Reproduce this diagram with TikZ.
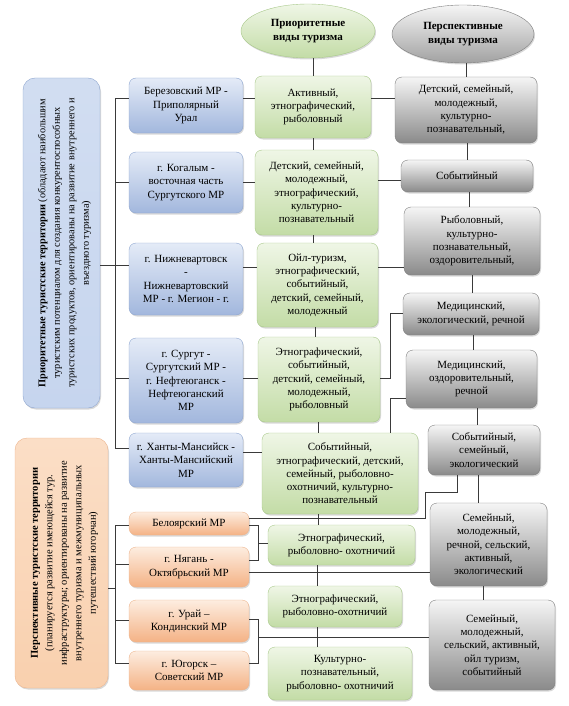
\documentclass[tikz,border=0pt]{standalone}
\usepackage{fontspec}
\setmainfont{Liberation Serif}
\usetikzlibrary{shapes.geometric,shadows}
\definecolor{blueT}{HTML}{E4EBF7}
\definecolor{blueB}{HTML}{A2B7DD}
\definecolor{blueLine}{HTML}{8EA6D0}
\definecolor{bigBlue}{HTML}{C6D5EE}
\definecolor{greenT}{HTML}{EFF6E6}
\definecolor{greenB}{HTML}{C3DCA6}
\definecolor{greenLine}{HTML}{A8C88A}
\definecolor{grayT}{HTML}{F5F5F5}
\definecolor{grayB}{HTML}{8A8A8A}
\definecolor{grayLine}{HTML}{7E7E7E}
\definecolor{orangeT}{HTML}{FDEDE0}
\definecolor{orangeB}{HTML}{F4B285}
\definecolor{orangeLine}{HTML}{EDB58E}
\definecolor{bigOrange}{HTML}{F9D0AE}
\definecolor{linkColor}{HTML}{3A3A3A}
\tikzset{
	sz/.style 2 args = {minimum width=#1pt, minimum height=#2pt},
	box/.style      = {shape=rectangle, rounded corners=7pt, draw, align=center,
		inner sep=1pt, font=\fontsize{11}{13.3}\selectfont,
		drop shadow={opacity=0.3, shadow xshift=1pt, shadow yshift=-1.5pt}},
	terr/.style     = {box, draw=blueLine, top color=blueT, bottom color=blueB},
	prio/.style     = {box, draw=greenLine, top color=greenT, bottom color=greenB},
	pers/.style     = {box, draw=grayLine, top color=grayT, bottom color=grayB},
	persterr/.style = {box, draw=orangeLine, top color=orangeT, bottom color=orangeB},
	head/.style     = {ellipse, draw, align=center, inner sep=0pt,
		font=\bfseries\fontsize{11}{13.3}\selectfont,
		drop shadow={opacity=0.3, shadow xshift=1pt, shadow yshift=-1.5pt}},
	sidetext/.style = {rotate=90, align=center},
	link/.style     = {draw=linkColor, line width=0.9pt}
}
\begin{document}
\begin{tikzpicture}[x=1pt,y=-1pt]
\useasboundingbox (0,0) rectangle (569,706);
\node [head, draw=greenLine, top color=greenT, bottom color=greenB, sz={134}{54}] (hprio) at (308,31) {Приоритетные\\виды туризма};
\node [head, draw=grayLine, top color=grayT, bottom color=grayB!80!white, sz={142}{58}] (hpers) at (463,34) {Перспективные\\виды туризма};

\node [terr, rounded corners=12pt, top color=bigBlue!80!white, bottom color=bigBlue, sz={77}{330}] (bigb) at (61.5,243) {};
\node [sidetext, font=\fontsize{10.3}{14.5}\selectfont] at ([xshift=3pt]bigb.center) {\textbf{Приоритетные туристские территории} (обладают наибольшим\\туристским потенциалом для создания конкурентоспособных\\туристских продуктов, ориентированы на развитие внутреннего и\\въездного туризма)};
\node [persterr, rounded corners=12pt, top color=bigOrange!70!white, bottom color=bigOrange, sz={93}{250}] (bigo) at (61.5,563) {};
\node [sidetext, font=\fontsize{10.5}{14.5}\selectfont] at ([xshift=3pt]bigo.center) {\textbf{Перспективные туристские территории}\\(планируется развитие имеющейся тур.\\инфраструктуры; ориентированы на развитие\\внутреннего туризма и межмуниципальных\\путешествий югорчан)};

\node [terr, sz={114}{55}] (b1) at (186,105.5) {Березовский МР -\\Приполярный\\Урал};
\node [terr, sz={114}{61}] (b2) at (186,182.5) {г. Когалым -\\восточная часть\\Сургутского МР};
\node [terr, sz={114}{72}] (b3) at (186,279) {г. Нижневартовск\\-\\Нижневартовский\\МР - г. Мегион - г.};
\node [terr, sz={114}{85}] (b4) at (186,380.5) {г. Сургут -\\Сургутский МР -\\г. Нефтеюганск -\\Нефтеюганский\\МР};
\node [terr, sz={114}{54}] (b5) at (186,460) {г. Ханты-Мансийск -\\Ханты-Мансийский\\МР};

\node [persterr, sz={120}{23}] (o1) at (189,523.5) {Белоярский МР};
\node [persterr, sz={120}{40}] (o2) at (189,567) {г. Нягань -\\Октябрьский МР};
\node [persterr, sz={120}{42}] (o3) at (189,621) {г. Урай –\\Кондинский МР};
\node [persterr, sz={120}{39}] (o4) at (189,670.5) {г. Югорск –\\Советский МР};

\node [prio, sz={116}{62}] (g1) at (313,107) {Активный,\\этнографический,\\рыболовный};
\node [prio, sz={123}{85}] (g2) at (316.5,192.5) {Детский, семейный,\\молодежный,\\этнографический,\\культурно-\\познавательный};
\node [prio, sz={121}{84}] (g3) at (317.5,285) {Ойл-туризм,\\этнографический,\\событийный,\\детский, семейный,\\молодежный};
\node [prio, sz={122}{85}] (g4) at (319,379.5) {Этнографический,\\событийный,\\детский, семейный,\\молодежный,\\рыболовный};
\node [prio, sz={156}{81}] (g5) at (340,473.5) {Событийный,\\этнографический, детский,\\семейный, рыболовно-\\охотничий, культурно-\\познавательный};
\node [prio, sz={147}{40}] (g6) at (341.5,545) {Этнографический,\\рыболовно- охотничий};
\node [prio, sz={134}{41}] (g7) at (335,606.5) {Этнографический,\\рыболовно-охотничий};
\node [prio, sz={144}{53}] (g8) at (340,673.5) {Культурно-\\познавательный,\\рыболовно- охотничий};

\node [pers, sz={142}{66}] (p1) at (466,110) {Детский, семейный,\\молодежный,\\культурно-\\познавательный,};
\node [pers, sz={132}{32}] (p2) at (467,176) {Событийный};
\node [pers, sz={136}{68}] (p3) at (472,241) {Рыболовный,\\культурно-\\познавательный,\\оздоровительный,};
\node [pers, sz={136}{42}] (p4) at (471,314) {Медицинский,\\экологический, речной};
\node [pers, sz={131}{58}] (p5) at (471.5,379) {Медицинский,\\оздоровительный,\\речной};
\node [pers, sz={112}{50}] (p6) at (484,450) {Событийный,\\семейный,\\экологический};
\node [pers, sz={117}{83}] (p7) at (488.5,544.5) {Семейный,\\молодежный,\\речной, сельский,\\активный,\\экологический};
\node [pers, sz={126}{90}] (p8) at (492,645) {Семейный,\\молодежный,\\сельский, активный,\\ойл туризм,\\событийный};

\draw [link] (hprio.south -| 313,0) -- (g1.north -| 313,0);
\draw [link] (hpers.south -| 466,0) -- (p1.north -| 466,0);
\foreach \a/\b/\x in {g1/g2/313, g2/g3/313, g3/g4/315, g4/g5/318, g5/g6/318, g6/g7/317, g7/g8/317,
		p1/p2/467, p2/p3/469, p3/p4/472, p4/p5/473, p5/p6/477, p6/p7/478, p7/p8/483}
	\draw [link] (\a.south -| \x,0) -- (\b.north -| \x,0);
\foreach \a/\b/\y in {b1/g1/98, b2/g2/182, b3/g3/267, b4/g4/378, b5/g5/452,
		g1/p1/98, g2/p2/180, g3/p3/267, o2/p7/572}
	\draw [link] (\a.east |- 0,\y) -- (\b.west |- 0,\y);

\draw [link] (b1.west |- 0,98) -| (115,448) -- (b5.west |- 0,448);
\foreach \n/\y in {b2/182, b4/378}
	\draw [link] (115,\y) -- (\n.west |- 0,\y);
\draw [link] (bigb.east |- 0,265) -- (b3.west |- 0,265);

\draw [link] (o1.west |- 0,525) -| (115,663) -- (o4.west |- 0,663);
\foreach \n/\y in {o2/564, o3/620}
	\draw [link] (115,\y) -- (\n.west |- 0,\y);
\draw [link] (bigo.east |- 0,588) -- (115,588);

\draw [link] (o1.east |- 0,525) -| (258,560) -- (o2.east |- 0,560);
\draw [link] (258,543) -- (g6.west |- 0,543);
\draw [link] (o3.east |- 0,619) -| (258,663) -- (o4.east |- 0,663);
\draw [link] (258,637) -- (p8.west |- 0,637);
\draw [link] (o1.east |- 0,518) -| (425,492) -| (p6.south -| 457,0);
\draw [link] (g4.east |- 0,378) -- (390,378) |- (p4.west |- 0,313);
\draw [link] (g5.north -| 390,0) |- (p5.west |- 0,398);
\end{tikzpicture}
\end{document}
